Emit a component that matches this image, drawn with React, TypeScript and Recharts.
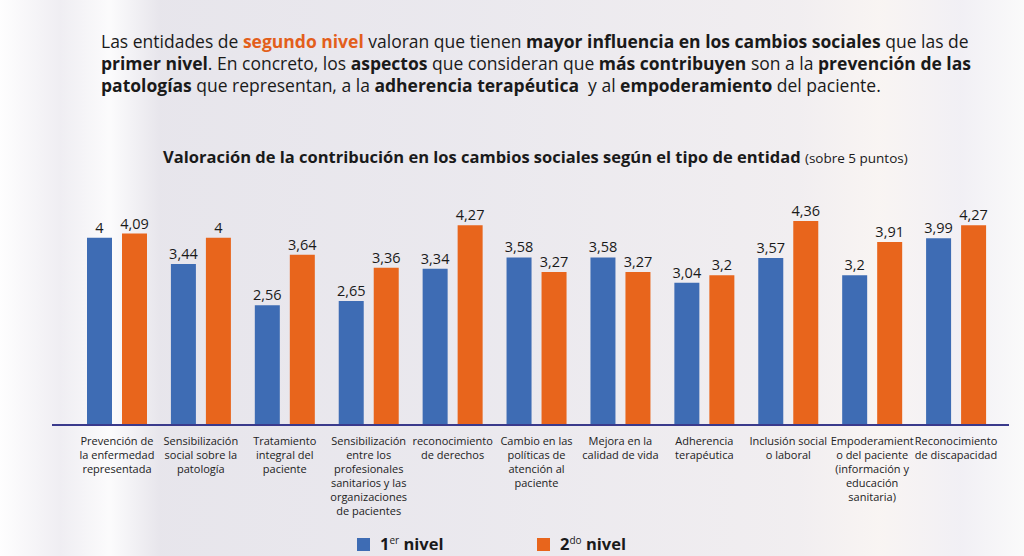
import { BarChart, Bar, XAxis, YAxis, LabelList } from 'recharts';

// categories, one line break per wrapped row of the tick label
const categories = [
  'Prevención de\nla enfermedad\nrepresentada',
  'Sensibilización\nsocial sobre la\npatología',
  'Tratamiento\nintegral del\npaciente',
  'Sensibilización\nentre los\nprofesionales\nsanitarios y las\norganizaciones\nde pacientes',
  'reconocimiento\nde derechos',
  'Cambio en las\npolíticas de\natención al\npaciente',
  'Mejora en la\ncalidad de vida',
  'Adherencia\nterapéutica',
  'Inclusión social\no laboral',
  'Empoderamient\no del paciente\n(información y\neducación\nsanitaria)',
  'Reconocimiento\nde discapacidad',
];

const primerNivel = [4, 3.44, 2.56, 2.65, 3.34, 3.58, 3.58, 3.04, 3.57, 3.2, 3.99];
const segundoNivel = [4.09, 4, 3.64, 3.36, 4.27, 3.27, 3.27, 3.2, 4.36, 3.91, 4.27];

const seriesKeys = ['n1', 'n2'];
const seriesBase = ['1', '2'];
const seriesSup = ['er', 'do'];
const seriesColors = ['#3e6cb4', '#e8651c'];

const data = categories.map((c, i) => ({ c, n1: primerNivel[i], n2: segundoNivel[i] }));

const FONT = '"Open Sans", sans-serif';

const fmt = (v: any) => String(v).replace('.', ',');

function CategoryTick({ x, y, payload }: any) {
  const lines = String(payload.value).split('\n');
  return (
    <text x={x} y={y + 12} textAnchor="middle" fontFamily={FONT} fontSize={11} fill="#222">
      {lines.map((l, i) => (
        <tspan key={i} x={x} dy={i === 0 ? 0 : 14}>
          {l}
        </tspan>
      ))}
    </text>
  );
}

export default function App() {
  return (
    <div
      style={{
        position: 'fixed',
        left: 0,
        top: 0,
        width: 1024,
        height: 556,
        overflow: 'hidden',
        fontFamily: FONT,
        color: '#1a1a1a',
        background:
          'linear-gradient(90deg, rgba(255,255,255,0.9) 0px, rgba(236,234,240,0.6) 60px, rgba(255,255,255,0.7) 110px, rgba(228,226,233,0.8) 160px, rgba(232,230,236,0.8) 470px, rgba(240,236,238,0.7) 800px, rgba(250,245,242,0.8) 880px, rgba(240,238,244,0.7) 960px, #fafafa 1024px), #f4f3f6',
      }}
    >
      {/* intro paragraph */}
      <div
        style={{
          position: 'absolute',
          left: 101,
          top: 30,
          fontSize: 17.5,
          lineHeight: '22px',
          whiteSpace: 'nowrap',
        }}
      >
        <div>
          Las entidades de <b style={{ color: '#e35f1c' }}>segundo nivel</b> valoran que tienen{' '}
          <b>mayor influencia en los cambios sociales</b> que las de
        </div>
        <div>
          <b>primer nivel</b>. En concreto, los <b>aspectos</b> que consideran que <b>más contribuyen</b> son a la{' '}
          <b>prevención de las</b>
        </div>
        <div>
          <b>patologías</b> que representan, a la <b>adherencia terapéutica</b>&nbsp; y al <b>empoderamiento</b> del
          paciente.
        </div>
      </div>

      {/* chart title */}
      <div
        style={{
          position: 'absolute',
          left: 163,
          top: 145,
          whiteSpace: 'nowrap',
          fontSize: 16.5,
          fontWeight: 700,
        }}
      >
        Valoración de la contribución en los cambios sociales según el tipo de entidad{' '}
        <span style={{ fontSize: 13.5, fontWeight: 400 }}>(sobre 5 puntos)</span>
      </div>

      <div style={{ position: 'absolute', left: 0, top: 0 }}>
        <BarChart
          width={1024}
          height={556}
          data={data}
          margin={{ top: 191, right: 15, left: 52, bottom: 21 }}
          barSize={25}
          barGap={10}
        >
          <XAxis
            dataKey="c"
            interval={0}
            height={110}
            padding={{ left: 23, right: 11 }}
            axisLine={{ stroke: '#3a3a8c', strokeWidth: 2 }}
            tickLine={false}
            tick={<CategoryTick />}
          />
          <YAxis hide domain={[0, 5]} />
          {seriesKeys.map((k, i) => (
            <Bar key={k} dataKey={k} fill={seriesColors[i]} isAnimationActive={false}>
              <LabelList
                dataKey={k}
                position="top"
                offset={5}
                formatter={fmt}
                style={{ fontFamily: FONT, fontSize: 14.5, fill: '#1a1a1a' }}
              />
            </Bar>
          ))}
        </BarChart>
      </div>

      {/* legend */}
      {seriesKeys.map((k, i) => (
        <div
          key={k}
          style={{
            position: 'absolute',
            left: 357 + i * 180,
            top: 535,
            height: 18,
            lineHeight: '18px',
            display: 'flex',
            alignItems: 'center',
            whiteSpace: 'nowrap',
            fontSize: 16.5,
            fontWeight: 700,
          }}
        >
          <span style={{ display: 'inline-block', width: 13, height: 13, background: seriesColors[i], marginRight: 10 }} />
          <span>
            {seriesBase[i]}
            <span style={{ fontSize: 10, fontWeight: 400, position: 'relative', top: -6, lineHeight: 0 }}>
              {seriesSup[i]}
            </span>{' '}
            nivel
          </span>
        </div>
      ))}
    </div>
  );
}
